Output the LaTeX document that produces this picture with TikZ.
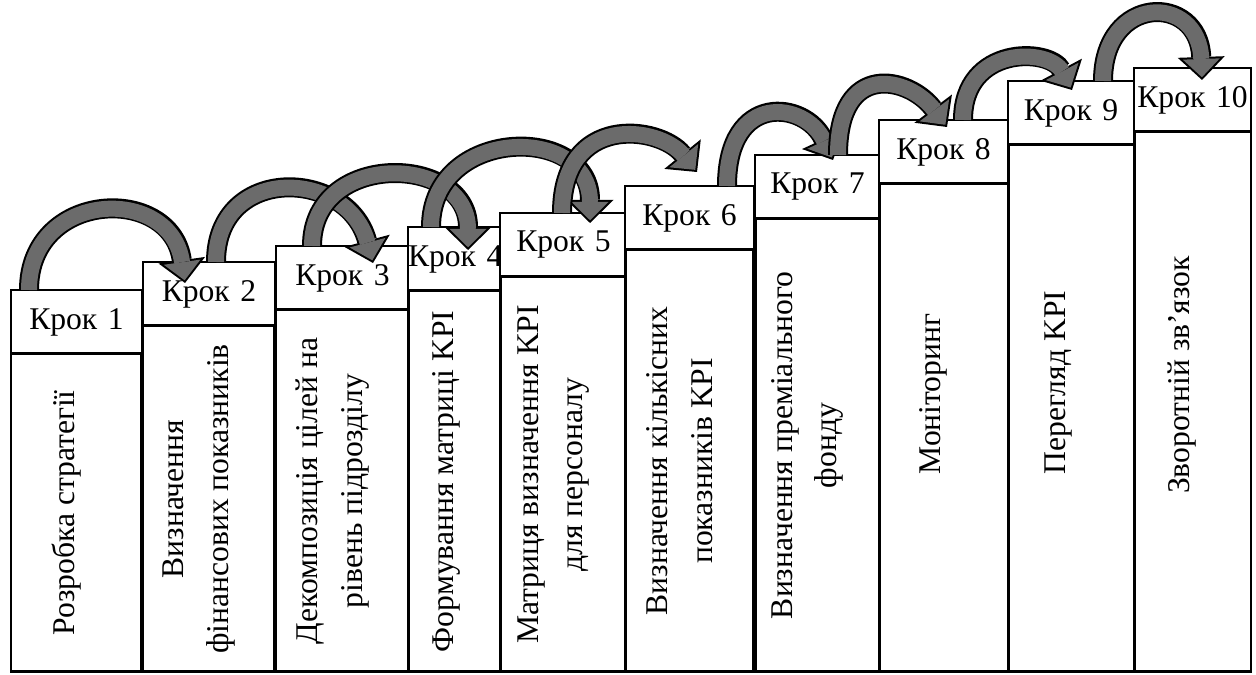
\documentclass[tikz,border=0pt]{standalone}
\usepackage{fontspec}
\setmainfont{Liberation Serif}
\usepackage{tikz}
\usetikzlibrary{positioning,calc,arrows.meta}

\newcommand{\steparrow}[3]{%
  \draw[arrowrim] #1 to[#3] #2;
  \draw[arrowcore] #1 to[#3] #2;
}

\begin{document}
\begin{tikzpicture}[x=0.02cm, y=0.02cm,
  krok/.style={draw, fill=white, line width=1.3pt, inner sep=0pt, outer sep=0pt,
    minimum height=1.28cm, align=center, anchor=north west, font=\fontsize{18}{21}\selectfont},
  stupin/.style={draw, fill=white, line width=1.7pt, inner sep=0pt, outer sep=0pt},
  txt/.style={rotate=90, align=center, inner sep=0pt, font=\fontsize{18}{25.5}\selectfont},
  arrowrim/.style={draw=black, line width=0.4cm,
    -{Triangle[length=0.46cm, width=0.94cm, line width=0pt 0]}},
  arrowcore/.style={draw=black!58, line width=0.32cm, shorten >=0.055cm,
    -{Triangle[length=0.365cm, width=0.74cm, line width=0pt 0]}}]
  \useasboundingbox (0,0) rectangle (1256,675);

  \node[krok, text width=2.62cm] (k1) at (11,385) {Крок~1};
  \node[krok, text width=2.64cm] (k2) at (143,413) {Крок~2};
  \node[krok, text width=2.66cm] (k3) at (276,429) {Крок~3};
  \node[krok, text width=1.86cm] (k4) at (408,448) {Крок~4};
  \node[krok, text width=2.54cm] (k5) at (500,462) {Крок~5};
  \node[krok, text width=2.58cm] (k6) at (625,489) {Крок~6};
  \node[krok, text width=2.50cm] (k7) at (755,520) {Крок~7};
  \node[krok, text width=2.58cm] (k8) at (879,555) {Крок~8};
  \node[krok, text width=2.52cm] (k9) at (1008,594) {Крок~9};
  \node[krok, text width=2.34cm] (k10) at (1134,607) {Крок~10};

  \node[stupin, below=0pt of k1, minimum width=2.62cm, minimum height=6.36cm] (b1) {};
  \node[stupin, below=0pt of k2, minimum width=2.64cm, minimum height=6.92cm] (b2) {};
  \node[stupin, below=0pt of k3, minimum width=2.66cm, minimum height=7.24cm] (b3) {};
  \node[stupin, below=0pt of k4, minimum width=1.86cm, minimum height=7.62cm] (b4) {};
  \node[stupin, below=0pt of k5, minimum width=2.54cm, minimum height=7.90cm] (b5) {};
  \node[stupin, below=0pt of k6, minimum width=2.58cm, minimum height=8.44cm] (b6) {};
  \node[stupin, below=0pt of k7, minimum width=2.50cm, minimum height=9.06cm] (b7) {};
  \node[stupin, below=0pt of k8, minimum width=2.58cm, minimum height=9.76cm] (b8) {};
  \node[stupin, below=0pt of k9, minimum width=2.52cm, minimum height=10.54cm] (b9) {};
  \node[stupin, below=0pt of k10, minimum width=2.34cm, minimum height=10.80cm] (b10) {};

  \node[txt] (t1) at ($(b1.center)+(-10,0)$) {Розробка стратегії};
  \node[txt] (t2) at ($(b2.center)+(-10,0)$) {Визначення\\фінансових показників};
  \node[txt] (t3) at ($(b3.center)+(-10,0)$) {Декомпозиція цілей на\\рівень підрозділу};
  \node[txt] (t4) at ($(b4.center)+(-8,0)$) {Формування матриці KPI};
  \node[txt] (t5) at ($(b5.center)+(-10,0)$) {Матриця визначення KPI\\для персоналу};
  \node[txt] (t6) at ($(b6.center)+(-10,0)$) {Визначення кількісних\\показників KPI};
  \node[txt] (t7) at ($(b7.center)+(-10,0)$) {Визначення преміального\\фонду};
  \node[txt] (t8) at ($(b8.center)+(-10,34)$) {Моніторинг};
  \node[txt] (t9) at ($(b9.center)+(-12,26)$) {Перегляд KPI};
  \node[txt] (t10) at ($(b10.center)+(-10,27)$) {Зворотній зв’язок};

  \steparrow{($(k1.north west)+(18,0)$)}{($(k2.north west)+(42,-21)$)}{out=90, in=98, distance=2cm}
  \steparrow{($(k2.north west)+(73,0)$)}{($(k3.north west)+(97,-17)$)}{out=90, in=105, distance=1.96cm}
  \steparrow{($(k3.north west)+(36,0)$)}{($(k4.north west)+(60,-23)$)}{out=90, in=90, distance=1.92cm}
  \steparrow{($(k4.north west)+(23,0)$)}{($(k5.north west)+(90,-10)$)}{out=90, in=90, distance=2cm}
  \steparrow{($(k5.north west)+(62,0)$)}{($(k6.north west)+(72,14)$)}{out=90, in=129, out distance=2cm, in distance=1.2cm}
  \steparrow{($(k6.north west)+(102,0)$)}{($(k7.north west)+(78,-5)$)}{out=90, in=115, out distance=1.9cm, in distance=1.3cm}
  \steparrow{($(k7.north west)+(83,0)$)}{($(k8.north west)+(68,-7)$)}{out=90, in=127, out distance=1.9cm, in distance=1.26cm}
  \steparrow{($(k8.north west)+(84,0)$)}{($(k9.north west)+(64,-9)$)}{out=90, in=118, out distance=1.5cm, in distance=0.96cm}
  \steparrow{($(k9.north west)+(95,0)$)}{($(k10.north west)+(68,-12)$)}{out=90, in=92, distance=1.74cm}
\end{tikzpicture}
\end{document}
